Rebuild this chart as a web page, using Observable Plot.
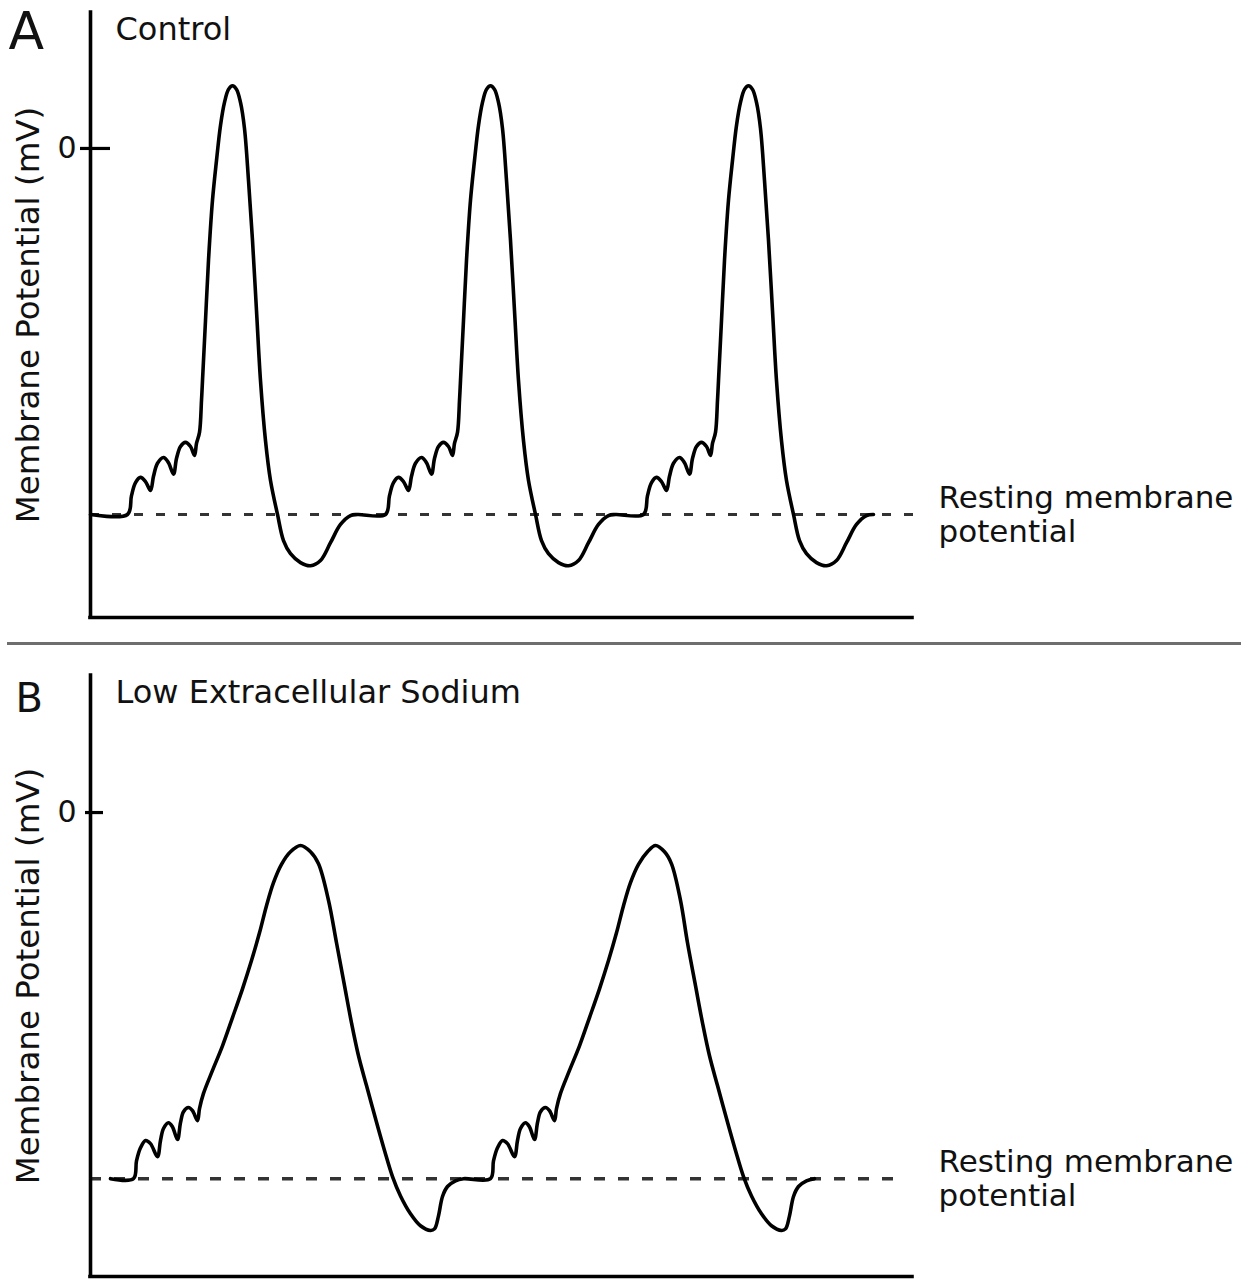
<!DOCTYPE html>
<html>
<head>
<meta charset="utf-8">
<script src="https://cdn.jsdelivr.net/npm/d3@7"></script>
<script src="https://cdn.jsdelivr.net/npm/@observablehq/plot@0.6"></script>
<style>
  body { margin: 0; background: #fff; }
  #wrap { position: relative; width: 1249px; height: 1279px; overflow: hidden; background: #fff; }
  #panelA { position: absolute; left: 0; top: 0; }
  #sep { position: absolute; left: 7px; top: 642px; width: 1234px; height: 3px; background: #6e6e6e; }
  #panelB { position: absolute; left: 0; top: 646px; }
</style>
</head>
<body>
<div id="wrap">
  <div id="panelA"></div>
  <div id="sep"></div>
  <div id="panelB"></div>
</div>
<script>
// ---------- data ----------
const panelLetters = ["A", "B"];
const panelTitles = ["Control", "Low Extracellular Sodium"];
const yAxisLabel = "Membrane Potential (mV)";
const restingLabel = "Resting membrane\npotential";
const restingPotential = -70;   // mV
const yTicks = [0];             // mV
const timeDomain = [0, 822];    // arbitrary time units

// Panel A: control, three action potentials
const controlTime = [
  0, 37, 41, 45, 50, 55, 60, 63, 67, 73, 78, 83, 86, 90, 95, 100, 104, 106, 109, 111,
  112, 115, 118, 122, 126, 130, 134, 138, 142, 146, 150, 154, 158, 162, 166, 170, 175, 180, 187, 193,
  200, 210, 220, 230, 240, 250, 260, 267,
  295, 299, 303, 308, 313, 318, 321, 325, 331, 336, 341, 344, 348, 353, 358, 362, 364, 367, 369,
  370, 373, 376, 380, 384, 388, 392, 396, 400, 404, 408, 412, 416, 420, 424, 428, 433, 438, 445, 451,
  458, 468, 478, 488, 498, 508, 518, 525,
  553, 557, 561, 566, 571, 576, 579, 583, 589, 594, 599, 602, 606, 611, 616, 620, 622, 625, 627,
  628, 631, 634, 638, 642, 646, 650, 654, 658, 662, 666, 670, 674, 678, 682, 686, 691, 696, 703, 709,
  716, 726, 736, 746, 756, 766, 776, 783
];
const controlVoltage = [
  -70, -70, -66.4, -63.9, -62.9, -63.7, -65.4, -62.7, -60.2, -59.1, -60.1, -62.3, -59.3, -57.0, -56.2, -57.0, -58.7, -56.4, -54.3, -48.2,
  -44.4, -32.9, -21.4, -9.9, -2.3, 4.4, 8.8, 11.3, 12.0, 11.3, 8.8, 3.8, -6.1, -17.6, -31.0, -44.4, -55.9, -63.5, -70, -75.0,
  -77.5, -79.2, -79.8, -78.8, -75.4, -71.9, -70.2, -70,
  -70, -66.4, -63.9, -62.9, -63.7, -65.4, -62.7, -60.2, -59.1, -60.1, -62.3, -59.3, -57.0, -56.2, -57.0, -58.7, -56.4, -54.3, -48.2,
  -44.4, -32.9, -21.4, -9.9, -2.3, 4.4, 8.8, 11.3, 12.0, 11.3, 8.8, 3.8, -6.1, -17.6, -31.0, -44.4, -55.9, -63.5, -70, -75.0,
  -77.5, -79.2, -79.8, -78.8, -75.4, -71.9, -70.2, -70,
  -70, -66.4, -63.9, -62.9, -63.7, -65.4, -62.7, -60.2, -59.1, -60.1, -62.3, -59.3, -57.0, -56.2, -57.0, -58.7, -56.4, -54.3, -48.2,
  -44.4, -32.9, -21.4, -9.9, -2.3, 4.4, 8.8, 11.3, 12.0, 11.3, 8.8, 3.8, -6.1, -17.6, -31.0, -44.4, -55.9, -63.5, -70, -75.0,
  -77.5, -79.2, -79.8, -78.8, -75.4, -71.9, -70.2, -70
];

// Panel B: low extracellular sodium, two broad action potentials
const lowNaTime = [
  20, 43, 46, 50, 55, 60, 67, 70, 73, 78, 82, 87, 90, 93, 98, 102, 107, 109,
  113, 122, 132, 142, 152, 161, 169, 176, 183, 191, 200, 210, 220, 228, 238, 246, 254,
  261, 268, 276, 285, 294, 302, 310, 320, 330, 340, 344, 348, 352, 357, 365, 373,
  400, 403, 407, 412, 417, 424, 427, 430, 435, 439, 444, 447, 450, 455, 459, 464, 466,
  470, 479, 489, 499, 509, 518, 526, 533, 540, 548, 557, 565, 574, 581, 590, 597, 605,
  612, 619, 627, 636, 645, 653, 661, 671, 681, 691, 695, 699, 703, 708, 716, 724
];
const lowNaVoltage = [
  -70, -70, -66.6, -64.1, -62.7, -63.3, -65.8, -62.7, -60.4, -59.3, -60.1, -62.5, -59.3, -57.2, -56.4, -57.0, -58.9, -56.6,
  -53.7, -49.3, -44.6, -39.2, -33.7, -28.3, -23.0, -17.8, -13.4, -9.9, -7.5, -6.3, -7.5, -9.8, -16.8, -24.9, -33.1,
  -40.2, -46.5, -52.2, -58.5, -64.6, -69.6, -73.3, -76.7, -79.0, -79.9, -79.6, -77.1, -73.4, -71.5, -70.4, -70.0,
  -70, -66.6, -64.1, -62.7, -63.3, -65.8, -62.7, -60.4, -59.3, -60.1, -62.5, -59.3, -57.2, -56.4, -57.0, -58.9, -56.6,
  -53.7, -49.3, -44.6, -39.2, -33.7, -28.3, -23.0, -17.8, -13.4, -9.9, -7.5, -6.3, -7.5, -9.8, -16.8, -24.9, -33.1,
  -40.2, -46.5, -52.2, -58.5, -64.6, -69.6, -73.3, -76.7, -79.0, -79.9, -79.6, -77.1, -73.4, -71.5, -70.4, -70.0
];

// ---------- drawing ----------
const FONT = '"DejaVu Sans", Verdana, sans-serif';

function panel(o) {
  const data = o.time.map((t, i) => ({t, v: o.voltage[i]}));
  return Plot.plot({
    width: 1249,
    height: o.height,
    marginLeft: 90,
    marginRight: 337,
    marginTop: o.marginTop,
    marginBottom: o.marginBottom,
    x: {domain: timeDomain, axis: null},
    y: {domain: o.yDomain, axis: null},
    style: {fontFamily: FONT, background: "transparent", overflow: "visible", color: "#111"},
    marks: [
      Plot.ruleY([restingPotential], {x1: 0, x2: o.restEnd, stroke: "#333", strokeWidth: o.dashWidth, strokeDasharray: o.dash}),
      Plot.line(data, {x: "t", y: "v", curve: "catmull-rom", stroke: "#000", strokeWidth: 3.6, strokeLinejoin: "round", strokeLinecap: "round"}),
      Plot.ruleX([0], {stroke: "#000", strokeWidth: 3.6, strokeLinecap: "square"}),
      Plot.ruleY([o.yDomain[0]], {stroke: "#000", strokeWidth: 3.6, strokeLinecap: "square"}),
      Plot.ruleY(yTicks, {x1: o.tickX[0], x2: o.tickX[1], stroke: "#000", strokeWidth: 3.2}),
      Plot.text(yTicks, {y: d => d, frameAnchor: "left", dx: -14, textAnchor: "end", fontSize: 30, fill: "#111"}),
      Plot.text([yAxisLabel], {frameAnchor: "left", dx: -62, rotate: -90, textAnchor: "middle", fontSize: 32.5, fill: "#111"}),
      Plot.text([o.letter], {frameAnchor: "top-left", dx: o.letterDx, dy: o.letterDy, lineAnchor: "top", textAnchor: "start", fontSize: o.letterSize, fill: "#111"}),
      Plot.text([o.title], {frameAnchor: "top-left", dx: 25, dy: 5, lineAnchor: "top", textAnchor: "start", fontSize: 32, fill: "#111"}),
      Plot.text([restingLabel], {y: () => restingPotential, frameAnchor: "right", dx: 26, dy: -31, lineAnchor: "top", textAnchor: "start", lineHeight: 1.1, fontSize: 31, fill: "#111"})
    ]
  });
}

document.getElementById("panelA").appendChild(panel({
  letter: panelLetters[0], title: panelTitles[0],
  time: controlTime, voltage: controlVoltage,
  height: 641, marginTop: 12, marginBottom: 24,
  yDomain: [-89.7, 26.0], restEnd: 825, tickX: [-10, 20],
  letterSize: 52, letterDx: -82, letterDy: 0,
  dash: "9,13", dashWidth: 3
}));

document.getElementById("panelB").appendChild(panel({
  letter: panelLetters[1], title: panelTitles[1],
  time: lowNaTime, voltage: lowNaVoltage,
  height: 633, marginTop: 29, marginBottom: 3,
  yDomain: [-88.7, 26.2], restEnd: 803, tickX: [-5, 13],
  letterSize: 40, letterDx: -75, letterDy: 8,
  dash: "11,13", dashWidth: 3.6
}));
</script>
</body>
</html>
